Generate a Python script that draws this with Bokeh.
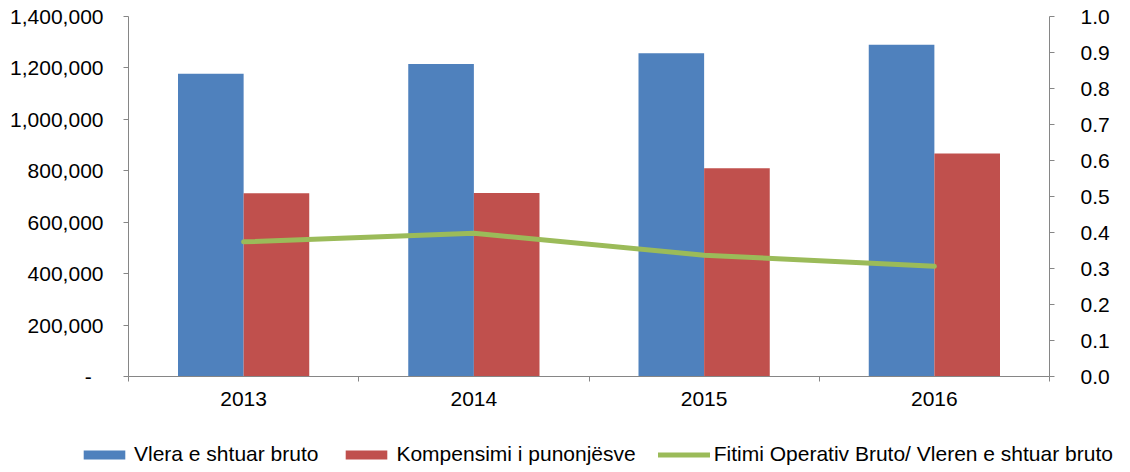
import numpy as np
from bokeh.plotting import figure
from bokeh.models import (Range1d, LinearAxis, FixedTicker, NumeralTickFormatter,
                          Legend, LegendItem, ColumnDataSource)
from bokeh.embed import file_html
from bokeh.resources import INLINE

years = ["2013", "2014", "2015", "2016"]
vlera_shtuar = [1177000, 1215000, 1257000, 1290000]
kompensimi = [713000, 714000, 810000, 867000]
fitimi_ratio = [0.374, 0.398, 0.337, 0.306]

left_ticks = [0, 200000, 400000, 600000, 800000, 1000000, 1200000, 1400000]
right_ticks = [0.0, 0.1, 0.2, 0.3, 0.4, 0.5, 0.6, 0.7, 0.8, 0.9, 1.0]

FONT = "Liberation Sans"
FS = "21px"
AXIS_COLOR = "#868686"
BLUE, RED, GREEN = "#4F81BD", "#C0504D", "#9BBB59"

n = len(years)
centers = np.arange(n) + 0.5
bw = 0.285

src = ColumnDataSource(dict(
    xb=centers - bw / 2, xr=centers + bw / 2, xc=centers,
    v=vlera_shtuar, k=kompensimi, f=fitimi_ratio,
))

p = figure(width=1130, height=432, output_backend="svg", toolbar_location=None,
           x_range=Range1d(0, n), y_range=Range1d(0, 1400000),
           min_border_left=128, min_border_right=81, min_border_top=16, min_border_bottom=56,
           y_axis_location=None, x_axis_location=None)
p.extra_y_ranges = {"ratio": Range1d(0, 1.0)}
p.outline_line_color = None
p.xgrid.visible = False
p.ygrid.visible = False
p.background_fill_color = "white"
p.border_fill_color = "white"

p.vbar(x="xb", top="v", width=bw, source=src, fill_color=BLUE, line_color=None)
p.vbar(x="xr", top="k", width=bw, source=src, fill_color=RED, line_color=None)
p.line(x="xc", y="f", source=src, y_range_name="ratio", line_color=GREEN,
       line_width=5, line_cap="round", line_join="round")

# left axis
ya = LinearAxis(ticker=FixedTicker(ticks=left_ticks, minor_ticks=[]),
                formatter=NumeralTickFormatter(format="0,0"))
ya.major_label_overrides = {0: "-\u2007"}
ya.axis_line_color = AXIS_COLOR
ya.major_tick_line_color = AXIS_COLOR
ya.major_tick_out = 5
ya.major_tick_in = 0
ya.minor_tick_line_color = None
ya.major_label_standoff = 20
ya.major_label_text_font = FONT
ya.major_label_text_font_size = FS
ya.major_label_text_color = "black"
p.add_layout(ya, "left")

# right axis
ra = LinearAxis(y_range_name="ratio", ticker=FixedTicker(ticks=right_ticks, minor_ticks=[]),
                formatter=NumeralTickFormatter(format="0.0"))
ra.axis_line_color = AXIS_COLOR
ra.major_tick_line_color = AXIS_COLOR
ra.major_tick_out = 5
ra.major_tick_in = 0
ra.minor_tick_line_color = None
ra.major_label_standoff = 26
ra.major_label_text_font = FONT
ra.major_label_text_font_size = FS
ra.major_label_text_color = "black"
p.add_layout(ra, "right")

# bottom axis: labels at centres, ticks at category boundaries
xa = LinearAxis(ticker=FixedTicker(ticks=list(centers), minor_ticks=list(range(n + 1))))
xa.major_label_overrides = {float(c): y for c, y in zip(centers, years)}
xa.axis_line_color = AXIS_COLOR
xa.major_tick_line_color = None
xa.major_tick_out = 0
xa.major_tick_in = 0
xa.minor_tick_line_color = AXIS_COLOR
xa.minor_tick_out = 5
xa.minor_tick_in = 0
xa.major_label_standoff = 10
xa.major_label_text_font = FONT
xa.major_label_text_font_size = FS
xa.major_label_text_color = "black"
p.add_layout(xa, "below")

# legend strip (separate figure below the chart); sample glyphs lie outside its ranges
lg = figure(width=1130, height=40, output_backend="svg", toolbar_location=None,
            x_range=Range1d(0, 1), y_range=Range1d(0, 1),
            min_border=0, x_axis_location=None, y_axis_location=None)
lg.outline_line_color = None
lg.xgrid.visible = False
lg.ygrid.visible = False
lb = lg.vbar(x=[5], top=[5], bottom=[4], width=0.1, fill_color=BLUE, line_color=None)
lr = lg.vbar(x=[5], top=[5], bottom=[4], width=0.1, fill_color=RED, line_color=None)
ll = lg.line(x=[5, 6], y=[5, 5], line_color=GREEN, line_width=5, line_cap="round")

legend = Legend(items=[
    LegendItem(label="Vlera e shtuar bruto", renderers=[lb]),
    LegendItem(label="Kompensimi i punonjësve", renderers=[lr]),
    LegendItem(label="Fitimi Operativ Bruto/ Vleren e shtuar bruto", renderers=[ll]),
], location=(78, 6), orientation="horizontal")
legend.label_text_font = FONT
legend.label_text_font_size = FS
legend.label_text_color = "black"
legend.glyph_width = 52
legend.glyph_height = 11
legend.label_standoff = 4
legend.spacing = 22
legend.padding = 0
legend.margin = 0
legend.border_line_color = None
legend.background_fill_alpha = 0
lg.add_layout(legend)

open("out.html", "w").write(file_html([p, lg], INLINE))
